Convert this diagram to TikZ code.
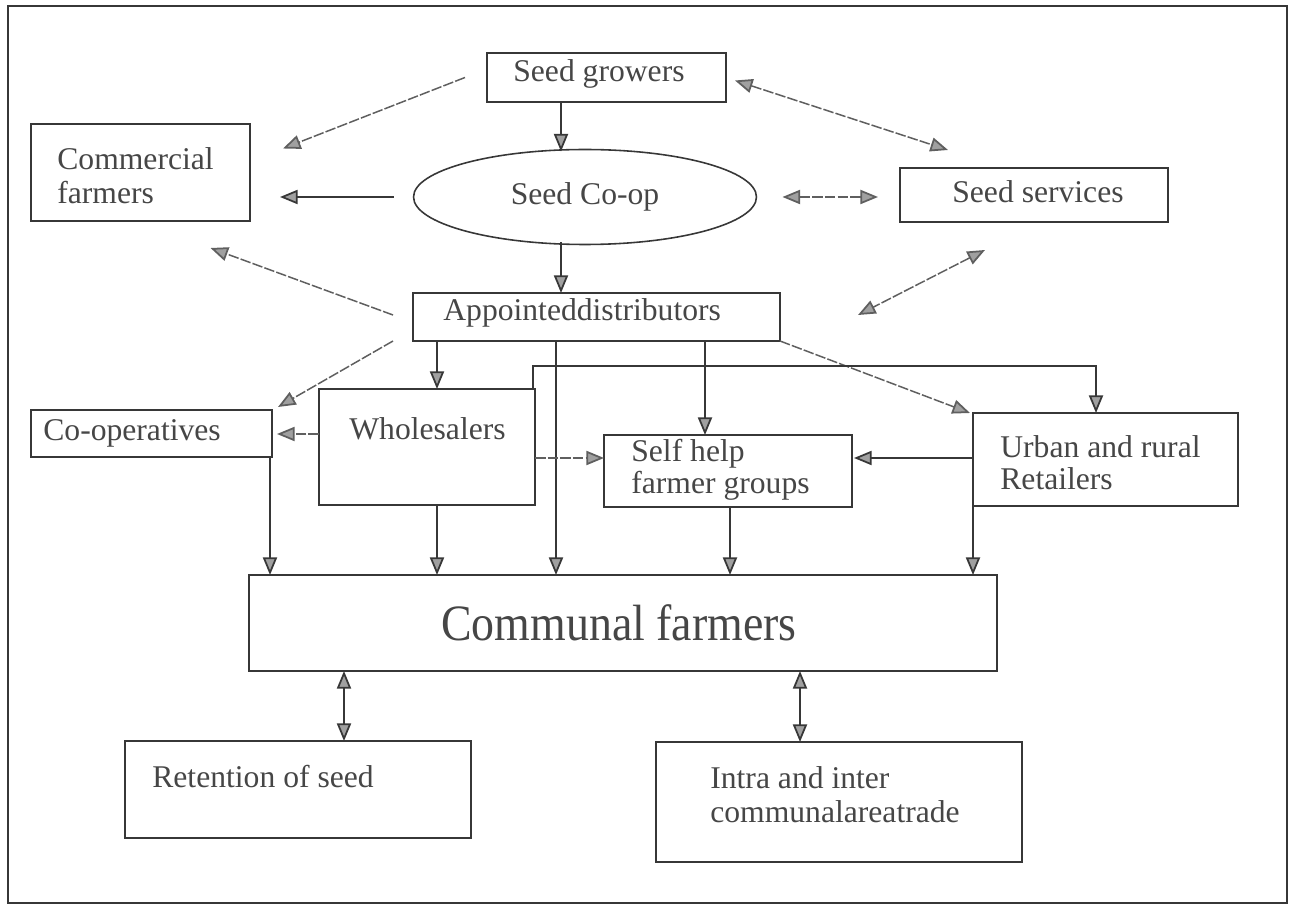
\documentclass[tikz,border=0pt]{standalone}
\usepackage{fontspec}
\setmainfont{Liberation Serif}
\newfontfamily\condfont[FakeStretch=0.9]{Liberation Serif}
\usetikzlibrary{arrows.meta,calc,fit,shapes.geometric}
\definecolor{lc}{RGB}{55,55,55}
\definecolor{lg}{RGB}{95,95,95}
\definecolor{tc}{RGB}{70,70,70}
\definecolor{tipfill}{RGB}{160,160,160}
\tikzset{
  box/.style={draw=lc, line width=1.1pt, inner sep=0pt, outer sep=0pt},
  txt/.style={anchor=base west, inner sep=0pt, text=tc, font=\fontsize{18}{20}\selectfont},
  tip/.tip={Triangle[length=10pt,width=8pt,fill=tipfill,line width=1pt]},
  arr/.style={draw=lc, line width=0.9pt, -tip},
  darr/.style={draw=lc, line width=0.9pt, tip-tip},
  light/.style={draw=lg, line width=0.85pt, dash pattern=on 6pt off 1.2pt},
}
\begin{document}
\begin{tikzpicture}[x=0.02cm, y=-0.02cm]
\useasboundingbox (0,0) rectangle (1291,908);
\draw[lc, line width=1.2pt] (8,6) rectangle (1287,903);

% boxes
\node[box, fit={(487,53) (726,102)}] (sg) {};
\node[box, fit={(31,124) (250,221)}] (cf) {};
\node[draw=lc, line width=0.9pt, ellipse, minimum width=6.86cm, minimum height=1.9cm, inner sep=0pt, outer sep=0pt, text=tc, font=\fontsize{18}{20}\selectfont] (coop) at (585,197) {Seed Co-op};
\node[box, fit={(900,168) (1168,222)}] (ss) {};
\node[box, fit={(413,293) (780,341)}] (ad) {};
\node[box, fit={(31,410) (272,457)}] (co) {};
\node[box, fit={(319,389) (535,505)}] (wh) {};
\node[box, fit={(604,435) (852,507)}] (sh) {};
\node[box, fit={(973,413) (1238,506)}] (ur) {};
\node[box, fit={(249,575) (997,671)}] (cfm) {};
\node[box, fit={(125,741) (471,838)}] (ret) {};
\node[box, fit={(656,742) (1022,862)}] (it) {};

% texts
\node[txt] (tsg) at (513,82) {Seed growers};
\node[txt] (tcf1) at (57,170) {Commercial};
\node[txt] (tcf2) at (57,204) {farmers};
\node[txt] (tss) at (952,203) {Seed services};
\node[txt] (tad) at (443,321) {Appointeddistributors};
\node[txt] (tco) at (43,441) {Co-operatives};
\node[txt] (twh) at (349,440) {Wholesalers};
\node[txt] (tsh1) at (631,461) {Self help};
\node[txt] (tsh2) at (631,494) {farmer groups};
\node[txt] (tur1) at (1000,458) {Urban and rural};
\node[txt] (tur2) at (1000,490) {Retailers};
\node[txt, font=\condfont\fontsize{29}{32}\selectfont] (tcfm) at (441,640) {Communal farmers};
\node[txt] (tret) at (152,787) {Retention of seed};
\node[txt] (tit1) at (710,788) {Intra and inter};
\node[txt] (tit2) at (710,822) {communalareatrade};

% connectors
\draw[arr, light] ($(sg.west)+(-22,0)$) -- ($(cf.east)+(33,-24)$);
\draw[arr] ($(sg.south west)+(74,0)$) -- ($(coop.north)+(-24,2)$);
\draw[darr, light] ($(sg.east)+(9,3)$) -- ($(ss.north)+(-86,-18)$);
\draw[arr] ($(coop.west)+(-20,0)$) -- ($(cf.east)+(30,24.5)$);
\draw[darr, light] ($(coop.east)+(26,0)$) -- ($(ss.west)+(-22,2)$);
\draw[arr] ($(coop.south)+(-24,-2)$) -- ($(ad.north west)+(148,0)$);
\draw[arr, light] ($(ad.west)+(-20,-2)$) -- ($(cf.south)+(70,27)$);
\draw[darr, light] ($(ss.south)+(-49,28)$) -- ($(ad.east)+(78,-2)$);
\draw[arr, light] ($(ad.south west)+(-20,0)$) -- ($(co.north east)+(6,-3)$);
\draw[arr] ($(ad.south west)+(24,0)$) -- ($(wh.north west)+(118,0)$);
\draw[arr, line width=1.4pt] ($(ad.south west)+(143,0)$) -- ($(cfm.north west)+(307,0)$);
\draw[arr] ($(ad.south west)+(292,0)$) -- ($(sh.north west)+(101,0)$);
\draw[arr, light] (ad.south east) -- ($(ur.north west)+(-3,0)$);
\draw[arr] ($(wh.north east)+(-2,0)$) -- ++(0,-23) -| ($(ur.north west)+(123,0)$);
\draw[arr, light] ($(wh.north west)+(0,45)$) -- ($(co.east)+(5,0.5)$);
\draw[arr, light] ($(wh.north east)+(0,69)$) -- ($(sh.west)+(0,-13)$);
\draw[arr] ($(ur.north west)+(0,45)$) -- ($(sh.east)+(2,-13)$);
\draw[arr] ($(co.south east)+(-2,0)$) -- ($(cfm.north west)+(21,0)$);
\draw[arr] ($(wh.south west)+(118,0)$) -- ($(cfm.north west)+(188,0)$);
\draw[arr] ($(sh.south west)+(126,0)$) -- ($(cfm.north west)+(481,0)$);
\draw[arr] (ur.south west) -- ($(cfm.north west)+(724,0)$);
\draw[darr] ($(cfm.south west)+(95,0)$) -- ($(ret.north west)+(219,0)$);
\draw[darr] ($(cfm.south west)+(551,0)$) -- ($(it.north west)+(144,0)$);
\end{tikzpicture}
\end{document}
